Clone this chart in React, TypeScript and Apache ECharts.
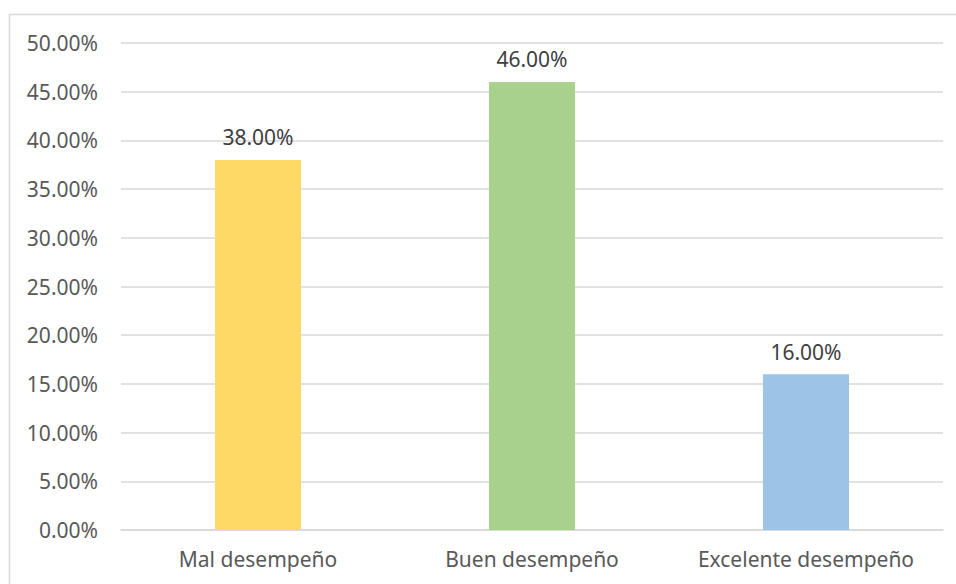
import React, { useEffect, useRef } from "react";
import * as echarts from "echarts";

const categories = ["Mal desempeño", "Buen desempeño", "Excelente desempeño"];
const values = [0.38, 0.46, 0.16];
const barColors = ["#FFD966", "#A9D18E", "#9DC3E6"];
const yMin = 0;
const yMax = 0.5;
const yStep = 0.05;

const fmt = (v: number) => (v * 100).toFixed(2) + "%";

export default function App() {
  const ref = useRef<HTMLDivElement>(null);
  useEffect(() => {
    if (!ref.current) return;
    document.body.style.margin = "0";
    document.body.style.overflow = "hidden";
    const chart = echarts.init(ref.current, null, { renderer: "svg" });
    const font = "'Noto Sans', 'Open Sans', sans-serif";
    chart.setOption({
      animation: false,
      backgroundColor: "#ffffff",
      graphic: [
        {
          type: "polyline",
          shape: { points: [[9.5, 600], [9.5, 14.5], [960, 14.5]] },
          style: { fill: "none", stroke: "#d9d9d9", lineWidth: 1.5 },
          silent: true,
          z: -1,
        },
      ],
      grid: { left: 121, right: 13, top: 43, bottom: 54, containLabel: false },
      xAxis: {
        type: "category",
        data: categories,
        axisLine: { show: true, lineStyle: { color: "#d9d9d9", width: 1.5 } },
        axisTick: { show: false },
        axisLabel: { color: "#595959", fontSize: 21, fontFamily: font, margin: 18, interval: 0 },
      },
      yAxis: {
        type: "value",
        min: yMin,
        max: yMax,
        interval: yStep,
        axisLine: { show: false },
        axisTick: { show: false },
        splitLine: { lineStyle: { color: "#d9d9d9", width: 1.5 } },
        axisLabel: {
          color: "#595959",
          fontSize: 21,
          fontFamily: font,
          margin: 23,
          formatter: (v: number) => fmt(v),
        },
      },
      series: [
        {
          type: "bar",
          barWidth: "31.4%",
          data: values.map((v, i) => ({ value: v, itemStyle: { color: barColors[i] } })),
          label: {
            show: true,
            position: "top",
            distance: 12,
            color: "#404040",
            fontSize: 21,
            fontFamily: font,
            formatter: (p: any) => fmt(p.value),
          },
        },
      ],
    });
    return () => chart.dispose();
  }, []);
  return <div ref={ref} style={{ width: 956, height: 584 }} />;
}
